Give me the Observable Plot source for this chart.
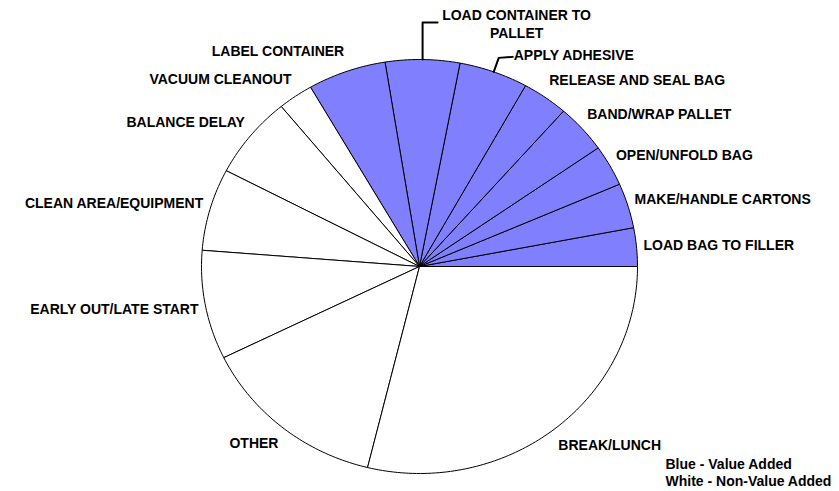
<!DOCTYPE html>
<html>
<head>
<meta charset="utf-8">
<script src="https://cdn.jsdelivr.net/npm/d3@7"></script>
<script src="https://cdn.jsdelivr.net/npm/@observablehq/plot@0.6"></script>
<style>
  html, body { margin: 0; padding: 0; background: #ffffff; }
  #chart svg { display: block; }
</style>
</head>
<body>
<div id="chart"></div>
<script>
// ---- data (percent of total time) ----
const categories = [
  "LOAD BAG TO FILLER",
  "MAKE/HANDLE CARTONS",
  "OPEN/UNFOLD BAG",
  "BAND/WRAP PALLET",
  "RELEASE AND SEAL BAG",
  "APPLY ADHESIVE",
  "LOAD CONTAINER TO PALLET",
  "LABEL CONTAINER",
  "VACUUM CLEANOUT",
  "BALANCE DELAY",
  "CLEAN AREA/EQUIPMENT",
  "EARLY OUT/LATE START",
  "OTHER",
  "BREAK/LUNCH"
];
const values = [3.0, 3.5, 3.2, 3.8, 3.4, 5.1, 5.5, 5.8, 2.6, 6.4, 6.4, 8.5, 13.9, 28.8];
const groups = [
  "Value Added", "Value Added", "Value Added", "Value Added",
  "Value Added", "Value Added", "Value Added", "Value Added",
  "Non-Value Added", "Non-Value Added", "Non-Value Added",
  "Non-Value Added", "Non-Value Added", "Non-Value Added"
];
const legendLines = ["Blue - Value Added", "White - Non-Value Added"];

// ---- layout ----
const W = 839, H = 491;
const cx = 419, cy = 266, rx = 218, ry = 207;
const FONT = "Liberation Sans, Arial, sans-serif";

// slices counter-clockwise from 3 o'clock
const total = d3.sum(values);
let acc = 0;
const slices = categories.map((name, i) => {
  const a0 = acc / total * 2 * Math.PI;
  acc += values[i];
  const a1 = acc / total * 2 * Math.PI;
  return {name, value: values[i], group: groups[i], a0, a1, mid: (a0 + a1) / 2};
});

// outline points for each slice (center -> arc -> center)
const piePts = [];
for (const s of slices) {
  piePts.push({name: s.name, group: s.group, x: 0, y: 0});
  const n = Math.max(2, Math.ceil((s.a1 - s.a0) / (Math.PI / 180)));
  for (let k = 0; k <= n; k++) {
    const a = s.a0 + (s.a1 - s.a0) * k / n;
    piePts.push({name: s.name, group: s.group, x: Math.cos(a), y: Math.sin(a)});
  }
  piePts.push({name: s.name, group: s.group, x: 0, y: 0});
}

const px = v => v / rx, py = v => -v / ry; // pixel offsets -> data units
const leaderNames = ["APPLY ADHESIVE", "LOAD CONTAINER TO PALLET"];

// plain labels
const plainLabels = slices.filter(s => !leaderNames.includes(s.name)).map(s => ({
  name: s.name,
  x: 1.032 * Math.cos(s.mid),
  y: 1.10 * Math.sin(s.mid),
  right: Math.cos(s.mid) >= 0
}));
const rightLabels = plainLabels.filter(d => d.right);
const leftLabels = plainLabels.filter(d => !d.right);

// leader-line labels
const sApply = slices.find(s => s.name === "APPLY ADHESIVE");
const sLoad = slices.find(s => s.name === "LOAD CONTAINER TO PALLET");
const apX = Math.cos(sApply.mid), apY = Math.sin(sApply.mid);
const ldX = Math.cos(sLoad.mid), ldY = Math.sin(sLoad.mid);
const leaderPts = [
  {k: "a", x: apX, y: apY},
  {k: "a", x: apX + px(5), y: apY + py(-14)},
  {k: "a", x: apX + px(19), y: apY + py(-15)},
  {k: "l", x: ldX, y: ldY},
  {k: "l", x: ldX + px(0), y: ldY + py(-37)},
  {k: "l", x: ldX + px(15), y: ldY + py(-37)}
];
const applyLabel = [{text: "APPLY ADHESIVE", x: apX + px(20), y: apY + py(-16)}];
const loadLabel = [{text: "LOAD CONTAINER TO\nPALLET", x: ldX + px(94), y: ldY + py(-36)}];

const txt = {fontSize: 14, fontWeight: "bold", fill: "#000000"};

const chart = Plot.plot({
  width: W,
  height: H,
  margin: 0,
  style: {background: "#ffffff", fontFamily: FONT},
  x: {domain: [-1, 1], range: [cx - rx, cx + rx], axis: null},
  y: {domain: [-1, 1], range: [cy + ry, cy - ry], axis: null},
  color: {domain: ["Value Added", "Non-Value Added"], range: ["#8080ff", "#ffffff"]},
  marks: [
    Plot.line(piePts, {
      x: "x", y: "y", z: "name", fill: "group",
      stroke: "#000000", strokeWidth: 1, strokeLinejoin: "round", curve: "linear"
    }),
    Plot.line(leaderPts, {x: "x", y: "y", z: "k", stroke: "#000000", strokeWidth: 2}),
    Plot.text(rightLabels, {x: "x", y: "y", text: "name", textAnchor: "start", ...txt}),
    Plot.text(leftLabels, {x: "x", y: "y", text: "name", textAnchor: "end", ...txt}),
    Plot.text(applyLabel, {x: "x", y: "y", text: "text", textAnchor: "start", ...txt}),
    Plot.text(loadLabel, {x: "x", y: "y", text: "text", textAnchor: "middle", lineHeight: 1.3, ...txt}),
    Plot.text([legendLines.join("\n")], {
      frameAnchor: "bottom-right", textAnchor: "start", lineAnchor: "bottom",
      dx: -174, dy: -6, lineHeight: 1.15,
      fontSize: 14, fontWeight: "bold", fill: "#000000"
    })
  ]
});
document.getElementById("chart").appendChild(chart);
</script>
</body>
</html>
